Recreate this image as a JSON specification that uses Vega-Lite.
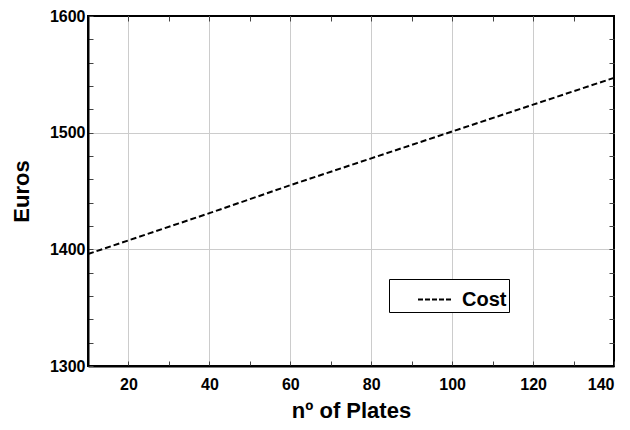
{
  "$schema": "https://vega.github.io/schema/vega-lite/v6.json",
  "width": 526,
  "height": 350,
  "autosize": {"type": "none"},
  "padding": {"left": 88, "top": 16, "right": 16, "bottom": 64},
  "background": "white",
  "config": {
    "font": "Liberation Sans",
    "view": {"stroke": "black", "strokeWidth": 2},
    "axis": {
      "labelFont": "Liberation Sans",
      "labelFontWeight": "bold",
      "labelFontSize": 16,
      "labelColor": "black",
      "titleFont": "Liberation Sans",
      "titleFontWeight": "bold",
      "titleFontSize": 22,
      "titleColor": "black",
      "domainColor": "black",
      "domainWidth": 2,
      "tickColor": "#444",
      "gridColor": "#cccccc",
      "gridWidth": 1
    }
  },
  "data": {
    "values": [
      {"plates": 10, "euros": 1396, "series": "Cost"},
      {"plates": 40, "euros": 1431, "series": "Cost"},
      {"plates": 60, "euros": 1455, "series": "Cost"},
      {"plates": 80, "euros": 1478, "series": "Cost"},
      {"plates": 100, "euros": 1501, "series": "Cost"},
      {"plates": 120, "euros": 1524, "series": "Cost"},
      {"plates": 140, "euros": 1547, "series": "Cost"}
    ]
  },
  "layer": [
    {
      "mark": {"type": "line", "strokeWidth": 2, "strokeDash": [6, 3]},
      "encoding": {
        "x": {
          "field": "plates", "type": "quantitative",
          "scale": {"domain": [10, 140], "nice": false, "zero": false},
          "axis": {
            "title": "nº of Plates",
            "format": "d",
            "values": [10, 20, 30, 40, 50, 60, 70, 80, 90, 100, 110, 120, 130, 140],
            "labelExpr": "datum.value % 20 === 0 ? datum.label : ''",
            "grid": true,
            "gridOpacity": {"condition": {"test": "datum.value % 20 === 0 && datum.value < 140", "value": 1}, "value": 0},
            "tickSize": -5,
            "labelPadding": 15,
            "titlePadding": 8
          }
        },
        "y": {
          "field": "euros", "type": "quantitative",
          "scale": {"domain": [1300, 1600], "nice": false, "zero": false},
          "axis": {
            "title": "Euros",
            "format": "d",
            "values": [1300, 1320, 1340, 1360, 1380, 1400, 1420, 1440, 1460, 1480, 1500, 1520, 1540, 1560, 1580, 1600],
            "labelExpr": "datum.value % 100 === 0 ? datum.label : ''",
            "grid": true,
            "gridOpacity": {"condition": {"test": "datum.value % 100 === 0 && datum.value > 1300 && datum.value < 1600", "value": 1}, "value": 0},
            "tickSize": -5,
            "labelPadding": 8,
            "titlePadding": 16
          }
        },
        "color": {
          "field": "series", "type": "nominal",
          "scale": {"range": ["black"]},
          "legend": {
            "title": null,
            "orient": "none",
            "legendX": 301,
            "legendY": 263,
            "strokeColor": "black",
            "fillColor": "white",
            "padding": 2,
            "symbolType": "stroke",
            "symbolDash": [5, 2],
            "symbolStrokeWidth": 2,
            "symbolSize": 1225,
            "symbolOffset": 26,
            "labelFont": "Liberation Sans",
            "labelFontWeight": "bold",
            "labelFontSize": 20,
            "labelColor": "black",
            "labelOffset": 8
          }
        }
      }
    },
    {
      "mark": {"type": "line", "opacity": 0},
      "encoding": {
        "x": {"field": "plates", "type": "quantitative", "scale": {"domain": [10, 140], "nice": false, "zero": false},
          "axis": {"orient": "top", "values": [20, 30, 40, 50, 60, 70, 80, 90, 100, 110, 120, 130], "labels": false, "domain": false, "grid": false, "tickSize": -5, "title": null}},
        "y": {"field": "euros", "type": "quantitative", "scale": {"domain": [1300, 1600], "nice": false, "zero": false},
          "axis": {"orient": "right", "values": [1320, 1340, 1360, 1380, 1400, 1420, 1440, 1460, 1480, 1500, 1520, 1540, 1560, 1580], "labels": false, "domain": false, "grid": false, "tickSize": -5, "title": null}}
      }
    }
  ],
  "resolve": {"axis": {"x": "independent", "y": "independent"}}
}
